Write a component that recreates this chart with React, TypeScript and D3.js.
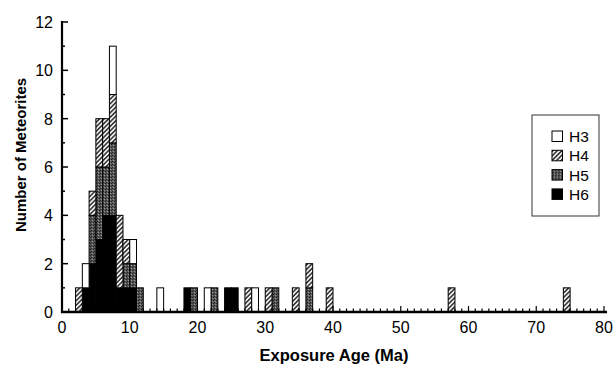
import React from "react";
import * as d3 from "d3";

// exposure ages (Ma, bin start) and counts per petrologic type
const ages = [2, 3, 4, 5, 6, 7, 8, 9, 10, 11, 14, 18, 19, 21, 22, 24, 25, 27, 28, 30, 31, 34, 36, 39, 57, 74];
const h3 = [0, 1, 0, 0, 0, 2, 0, 0, 1, 0, 1, 0, 0, 1, 0, 0, 0, 0, 1, 0, 0, 0, 0, 0, 0, 0];
const h4 = [1, 0, 1, 2, 2, 2, 3, 1, 0, 0, 0, 0, 0, 0, 0, 0, 0, 1, 0, 1, 0, 1, 1, 1, 1, 1];
const h5 = [0, 0, 2, 3, 2, 3, 0, 1, 1, 1, 0, 0, 1, 0, 1, 0, 0, 0, 0, 0, 1, 0, 1, 0, 0, 0];
const h6 = [0, 1, 2, 3, 4, 4, 1, 1, 1, 0, 0, 1, 0, 0, 0, 1, 1, 0, 0, 0, 0, 0, 0, 0, 0, 0];

const keys = ["H6", "H5", "H4", "H3"];
const legendKeys = ["H3", "H4", "H5", "H6"];
const xTicks = [0, 10, 20, 30, 40, 50, 60, 70, 80];
const yTicks = [0, 2, 4, 6, 8, 10, 12];

const fills: any = { H3: "#fff", H4: "url(#pH4)", H5: "url(#pH5)", H6: "#000" };

const App = () => {
  const W = 616;
  const H = 365;
  const x = d3.scaleLinear().domain([0, 80]).range([62, 604]);
  const y = d3.scaleLinear().domain([0, 12]).range([312, 22]);

  const rows = ages.map((a, i) => ({ age: a, H3: h3[i], H4: h4[i], H5: h5[i], H6: h6[i] }));
  const series = d3.stack().keys(keys)(rows as any);

  const font = "'Liberation Sans', Arial, sans-serif";

  return (
    <svg width={W} height={H} style={{ position: "absolute", left: 0, top: 0 }}>
      <defs>
        <pattern id="pH4" width="3.2" height="3.2" patternUnits="userSpaceOnUse" patternTransform="rotate(-45)">
          <rect width="3.2" height="3.2" fill="#fff" />
          <rect width="3.2" height="1.7" fill="#3a3a3a" />
        </pattern>
        <pattern id="pH5" width="3" height="3" patternUnits="userSpaceOnUse">
          <rect width="3" height="3" fill="#575757" />
          <rect x="0" y="0" width="1" height="1" fill="#1e1e1e" />
          <rect x="2" y="1" width="1" height="1" fill="#9a9a9a" />
          <rect x="1" y="2" width="1" height="1" fill="#262626" />
        </pattern>
      </defs>
      <rect width={W} height={H} fill="#fff" />

      {/* bars */}
      {series.map((s: any) => (
        <g key={s.key}>
          {s.map((d: any, i: number) =>
            d[1] - d[0] > 0 ? (
              <rect
                key={i}
                x={x(d.data.age)}
                width={x(d.data.age + 1) - x(d.data.age)}
                y={y(d[1])}
                height={y(d[0]) - y(d[1])}
                fill={fills[s.key]}
                stroke="#000"
                strokeWidth={1}
              />
            ) : null
          )}
        </g>
      ))}

      {/* x minor ticks */}
      {d3.range(0, 81).map((t) => (
        <line key={"xm" + t} x1={x(t)} x2={x(t)} y1={312} y2={t % 10 === 0 ? 306 : 308.5} stroke="#000" strokeWidth={1.2} />
      ))}
      {/* y ticks */}
      {d3.range(0, 13).map((t) => (
        <line key={"ym" + t} x1={62} x2={t % 2 === 0 ? 68 : 65} y1={y(t)} y2={y(t)} stroke="#000" strokeWidth={1.5} />
      ))}

      {/* axes */}
      <line x1={62} x2={62} y1={21} y2={313} stroke="#000" strokeWidth={2.2} />
      <line x1={61} x2={607} y1={312} y2={312} stroke="#000" strokeWidth={2.6} />

      {xTicks.map((t) => (
        <text key={"xl" + t} x={x(t)} y={333} textAnchor="middle" fontFamily={font} fontSize={16}>
          {t}
        </text>
      ))}
      {yTicks.map((t) => (
        <text key={"yl" + t} x={53} y={y(t) + 6} textAnchor="end" fontFamily={font} fontSize={16}>
          {t}
        </text>
      ))}

      <text x={334} y={361} textAnchor="middle" fontFamily={font} fontSize={16.5} fontWeight="bold">
        Exposure Age (Ma)
      </text>
      <text
        transform={`translate(26,155) rotate(-90)`}
        textAnchor="middle"
        fontFamily={font}
        fontSize={15}
        fontWeight="bold"
      >
        Number of Meteorites
      </text>

      {/* legend */}
      <rect x={532} y={115} width={67} height={101} fill="#fff" stroke="#333" strokeWidth={1} />
      {legendKeys.map((k, i) => (
        <g key={k} transform={`translate(552,${131 + i * 19.3})`}>
          <rect width={10.5} height={10.5} fill={fills[k]} stroke="#000" strokeWidth={1} />
          <text x={17} y={11} fontFamily={font} fontSize={15.5}>
            {k}
          </text>
        </g>
      ))}
    </svg>
  );
};

export default App;
